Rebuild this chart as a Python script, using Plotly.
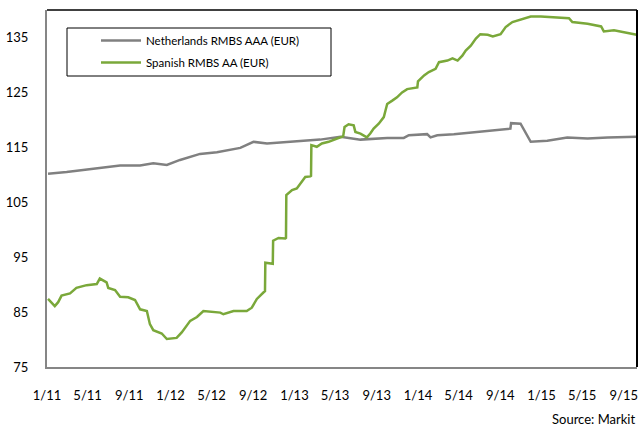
import plotly.graph_objects as go

# Price indices, EUR RMBS (Markit)
nl_dates = [
    "2011-01-04", "2011-02-28", "2011-05-18", "2011-08-05", "2011-10-03", "2011-11-11",
    "2011-12-21", "2012-01-29", "2012-03-28", "2012-05-17", "2012-07-25", "2012-09-02",
    "2012-10-12", "2012-12-10", "2013-03-18", "2013-05-17", "2013-07-15", "2013-10-02",
    "2013-11-20", "2013-12-05", "2014-01-28", "2014-02-07", "2014-02-27", "2014-04-17",
    "2014-06-26", "2014-09-12", "2014-10-01", "2014-10-03", "2014-10-31", "2014-11-30",
    "2015-01-18", "2015-03-18", "2015-05-17", "2015-07-15", "2015-10-09",
]
nl_values = [
    110.2, 110.5, 111.1, 111.7, 111.7, 112.1,
    111.8, 112.7, 113.8, 114.1, 114.9, 116.0,
    115.7, 116.0, 116.4, 116.9, 116.4, 116.7,
    116.7, 117.2, 117.4, 116.8, 117.2, 117.4,
    117.8, 118.2, 118.4, 119.4, 119.3, 116.0,
    116.2, 116.8, 116.6, 116.8, 116.9,
]

es_dates = [
    "2011-01-04", "2011-01-19", "2011-01-24", "2011-02-03", "2011-02-13", "2011-03-10",
    "2011-03-29", "2011-04-28", "2011-05-28", "2011-06-06", "2011-06-26", "2011-07-01",
    "2011-07-21", "2011-08-05", "2011-08-29", "2011-09-18", "2011-10-03", "2011-10-23",
    "2011-11-01", "2011-11-11", "2011-12-06", "2011-12-21", "2012-01-19", "2012-02-03",
    "2012-02-28", "2012-03-19", "2012-04-07", "2012-05-27", "2012-06-05", "2012-07-05",
    "2012-08-13", "2012-08-28", "2012-09-12", "2012-10-02", "2012-10-06", "2012-10-07",
    "2012-10-27", "2012-10-29", "2012-10-30", "2012-11-15", "2012-12-05", "2012-12-07",
    "2012-12-08", "2012-12-25", "2013-01-08", "2013-01-23", "2013-02-02", "2013-02-17",
    "2013-02-19", "2013-02-20", "2013-03-08", "2013-03-23", "2013-04-12", "2013-05-07",
    "2013-05-25", "2013-05-29", "2013-06-10", "2013-06-25", "2013-06-30", "2013-07-15",
    "2013-07-29", "2013-08-03", "2013-08-13", "2013-08-23", "2013-09-07", "2013-09-22",
    "2013-09-27", "2013-10-02", "2013-10-17", "2013-10-31", "2013-11-15", "2013-11-30",
    "2013-12-30", "2014-01-01", "2014-01-19", "2014-02-02", "2014-02-22", "2014-03-04",
    "2014-03-29", "2014-04-13", "2014-04-28", "2014-05-12", "2014-05-22", "2014-06-06",
    "2014-06-21", "2014-07-04", "2014-07-26", "2014-08-10", "2014-09-02", "2014-09-17",
    "2014-10-07", "2014-10-31", "2014-11-30", "2014-12-30", "2015-02-07", "2015-03-23",
    "2015-04-02", "2015-05-17", "2015-06-26", "2015-07-04", "2015-08-03", "2015-09-12",
    "2015-10-09",
]
es_values = [
    87.4, 86.4, 86.1, 86.8, 88.0, 88.4,
    89.4, 89.9, 90.1, 91.1, 90.4, 89.4,
    89.0, 87.8, 87.7, 87.2, 85.5, 85.2,
    82.8, 81.7, 81.1, 80.1, 80.3, 81.3,
    83.4, 84.1, 85.2, 84.9, 84.6, 85.2,
    85.2, 85.8, 87.4, 88.6, 88.8, 94.0,
    93.8, 93.8, 98.0, 98.5, 98.4, 98.5,
    106.3, 107.2, 107.5, 108.7, 109.6, 109.7,
    109.8, 115.4, 115.1, 115.7, 116.0, 116.6,
    117.0, 118.7, 119.2, 119.0, 117.8, 117.5,
    117.0, 116.8, 117.5, 118.4, 119.3, 120.5,
    121.7, 122.9, 123.5, 124.1, 125.0, 125.6,
    125.9, 127.0, 128.1, 128.7, 129.3, 130.5,
    130.8, 131.2, 130.8, 131.7, 132.6, 133.5,
    134.8, 135.6, 135.5, 135.2, 135.6, 136.9,
    137.8, 138.3, 138.8, 138.8, 138.6, 138.5,
    137.8, 137.5, 137.0, 136.1, 136.3, 135.9,
    135.5,
]

series_names = ["Netherlands RMBS AAA (EUR)", "Spanish RMBS AA (EUR)"]
source_text = "Source: Markit"

GRAY = "#808080"
GREEN = "#7AA83A"
FONT = "Lato, 'Open Sans', sans-serif"

fig = go.Figure()
fig.add_trace(go.Scatter(x=nl_dates, y=nl_values, mode="lines", name=series_names[0],
                         legendgroup="nl",
                         line=dict(color=GRAY, width=2.5)))
fig.add_trace(go.Scatter(x=es_dates, y=es_values, mode="lines", name=series_names[1],
                         legendgroup="es",
                         line=dict(color=GREEN, width=2.5)))

fig.update_layout(
    width=642, height=428,
    margin=dict(l=47, r=5, t=10, b=61),
    paper_bgcolor="white", plot_bgcolor="white",
    font=dict(family=FONT, size=13, color="#000000"),
    showlegend=True,
    legend=dict(x=(96 - 47) / 590, y=(367 - 26) / 357, xanchor="left", yanchor="top",
                bgcolor="rgba(0,0,0,0)", borderwidth=0,
                font=dict(family=FONT, size=11.5), tracegroupgap=3,
                traceorder="grouped", itemwidth=40),
    xaxis=dict(type="date", range=["2011-01-01", "2015-10-10"],
               tick0="2011-01-01", dtick="M4", tickformat="%-m/%y",
               showgrid=False, zeroline=False, showline=True,
               linecolor="#868686", linewidth=2, ticks="",
               ticklabelstandoff=15),
    yaxis=dict(range=[75, 140], tick0=75, dtick=10,
               showgrid=False, zeroline=False, showline=True,
               linecolor="#868686", linewidth=2, ticks="",
               ticklabelstandoff=14),
    shapes=[
        # top and right frame of the plot area
        dict(type="line", xref="paper", yref="paper", x0=0, x1=1, y0=1, y1=1,
             line=dict(color="#000000", width=1.5)),
        dict(type="line", xref="paper", yref="paper", x0=1, x1=1, y0=0, y1=1,
             line=dict(color="#000000", width=2)),
        # legend box
        dict(type="rect", xref="paper", yref="paper",
             x0=(67 - 47) / 590, x1=(331 - 47) / 590,
             y0=(367 - 76) / 357, y1=(367 - 28) / 357,
             line=dict(color="#000000", width=1), fillcolor="rgba(0,0,0,0)"),
    ],
    annotations=[
        dict(text=source_text, xref="paper", yref="paper", x=1, y=-0.145,
             xanchor="right", yanchor="middle", showarrow=False,
             font=dict(family=FONT, size=13)),
    ],
)

fig.write_html("out.html")
